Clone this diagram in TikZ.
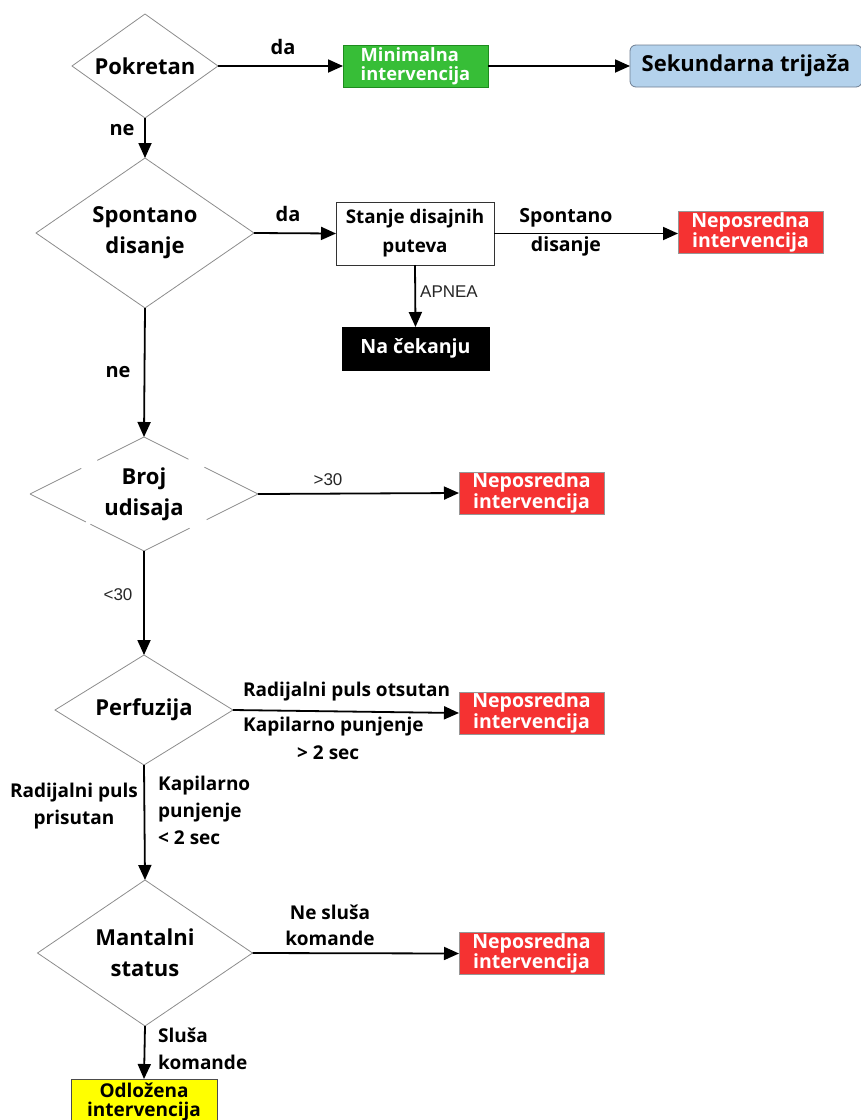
\documentclass[tikz,border=0pt]{standalone}
\usepackage{fontspec}
\setmainfont{Open Sans}
\newfontfamily\narrowfont{Liberation Sans}
\usetikzlibrary{shapes.geometric,arrows.meta,calc}
\definecolor{diagray}{RGB}{140,140,140}
\definecolor{redfill}{RGB}{245,50,50}
\definecolor{redline}{RGB}{150,150,150}
\definecolor{greenfill}{RGB}{55,190,55}
\definecolor{greenline}{RGB}{30,140,30}
\definecolor{bluefill}{RGB}{180,210,236}
\definecolor{blueline}{RGB}{110,125,145}
\definecolor{yellowfill}{RGB}{255,255,0}
\begin{document}
\begin{tikzpicture}[x=1pt,y=-1pt,
  dec/.style={diamond, draw=diagray, line width=0.8pt, inner sep=0pt, outer sep=0pt,
    align=center, font=\fontsize{22}{31}\selectfont\bfseries},
  diaedge/.style={draw=diagray, line width=0.8pt},
  boxbase/.style={rectangle, inner sep=0pt, outer sep=0pt, align=center,
    font=\fontsize{19}{19}\selectfont\bfseries},
  redbox/.style={boxbase, fill=redfill, draw=redline, line width=0.8pt, text=white,
    minimum width=145pt, minimum height=42pt, font=\fontsize{19.5}{19}\selectfont\bfseries},
  lab/.style={inner sep=0pt, font=\fontsize{19}{27}\selectfont\bfseries},
  biglab/.style={inner sep=0pt, font=\fontsize{20}{24}\selectfont\bfseries},
  smalllab/.style={inner sep=0pt, text=black!85, font=\narrowfont\fontsize{17}{18}\selectfont},
  arr/.style={line width=1.8pt, -{Triangle[length=15pt,width=13pt]}}
]
\useasboundingbox (0,0) rectangle (861,1120);

% decisions
\node[dec, aspect=1.4, minimum width=146pt, minimum height=104pt] (d1) at (145,66) {Pokretan};
\node[dec, aspect=1.45, minimum width=218pt, minimum height=150pt] (d2) at (145,233) {Spontano\\disanje};
\node[dec, draw=none, aspect=2, minimum width=228pt, minimum height=114pt] (d3) at (144,494) {Broj\\udisaja};
\node[dec, aspect=1.6, minimum width=178pt, minimum height=110pt] (d4) at (144,710) {Perfuzija};
\node[dec, aspect=1.47, minimum width=215pt, minimum height=146pt] (d5) at (145,953) {Mantalni\\status};

\draw[diaedge] (d3.west) -- ($(d3.west)!0.45!(d3.north)$)
  ($(d3.west)!0.59!(d3.north)$) -- (d3.north) -- ($(d3.north)!0.39!(d3.east)$)
  ($(d3.north)!0.53!(d3.east)$) -- (d3.east) -- ($(d3.east)!0.45!(d3.south)$)
  ($(d3.east)!0.60!(d3.south)$) -- (d3.south) -- ($(d3.south)!0.47!(d3.west)$)
  ($(d3.south)!0.51!(d3.west)$) -- (d3.west);

% boxes
\node[boxbase, fill=greenfill, draw=greenline, line width=0.8pt, text=white,
  minimum width=145pt, minimum height=42pt, align=left, font=\fontsize{18.3}{18.5}\selectfont\bfseries] (g1) at (415.5,66) {Minimalna\\intervencija};
\node[boxbase, fill=bluefill, draw=blueline, line width=0.8pt, rounded corners=6pt,
  minimum width=232pt, minimum height=42pt, font=\fontsize{22}{24}\selectfont\bfseries] (s1) at (746,66) {Sekundarna trija\v{z}a};
\node[boxbase, fill=white, draw=black!80, line width=0.9pt, minimum width=158pt, minimum height=63pt,
  font=\fontsize{18.8}{29}\selectfont\bfseries] (b1) at (415,233.5) {Stanje disajnih\\puteva};
\node[redbox] (r1) at (750.5,232.5) {Neposredna\\intervencija};
\node[boxbase, fill=black, draw=black, text=white, minimum width=147pt, minimum height=43pt,
  font=\fontsize{19.6}{20}\selectfont\bfseries] (k1) at (415.5,348.5) {Na \v{c}ekanju};
\node[redbox] (r2) at (531.5,493) {Neposredna\\intervencija};
\node[redbox] (r3) at (531.5,713) {Neposredna\\intervencija};
\node[redbox] (r4) at (531.5,953.5) {Neposredna\\intervencija};
\node[boxbase, fill=yellowfill, draw=black!70, line width=0.9pt, minimum width=146pt, minimum height=46pt,
  font=\fontsize{19}{18.5}\selectfont\bfseries] (y1) at (144,1102) {Odlo\v{z}ena\\intervencija};

% connectors
\draw[arr] (d1.east) -- (g1.west);
\draw[arr] (g1.east) -- (s1.west);
\draw[arr] (d1.south) -- (d2.north);
\draw[arr] (d2.east) -- (b1.west);
\draw[arr] (b1.east) -- (r1.west |- b1.east);
\draw[arr] (b1.south) -- (k1.north);
\draw[arr] (d2.south) -- (d3.north);
\draw[arr] (d3.east) -- (r2.west);
\draw[arr] (d3.south) -- (d4.north);
\draw[arr] (d4.east) -- (r3.west);
\draw[arr] (d4.south) -- (d5.north);
\draw[arr] (d5.east) -- (r4.west);
\draw[arr] (d5.south) -- (y1.north);

% labels
\node[biglab] (l1) at (283,47) {da};
\node[biglab] (l2) at (122,130) {ne};
\node[biglab] (l3) at (288,214) {da};
\node[lab, align=center, font=\fontsize{19.5}{29}\selectfont\bfseries] (l4) at (566,232) {Spontano\\disanje};
\node[smalllab] (l5) at (449,292) {APNEA};
\node[biglab] (l6) at (118,372) {ne};
\node[smalllab] (l7) at (328,480) {>30};
\node[smalllab] (l8) at (118,595) {<30};
\node[lab, anchor=west] (l9) at (243,692) {Radijalni puls otsutan};
\node[lab, anchor=west] (l10) at (243,727) {Kapilarno punjenje};
\node[lab, anchor=west] (l11) at (297,753) {> 2 sec};
\node[lab, align=center] (l12) at (74,806) {Radijalni puls\\prisutan};
\node[lab, align=left, anchor=west] (l13) at (158,810) {Kapilarno\\punjenje\\< 2 sec};
\node[lab, align=center, font=\fontsize{19}{26}\selectfont\bfseries] (l14) at (330,925) {Ne slu\v{s}a\\komande};
\node[lab, align=left, anchor=west] (l15) at (158,1048.5) {Slu\v{s}a\\komande};
\end{tikzpicture}
\end{document}
